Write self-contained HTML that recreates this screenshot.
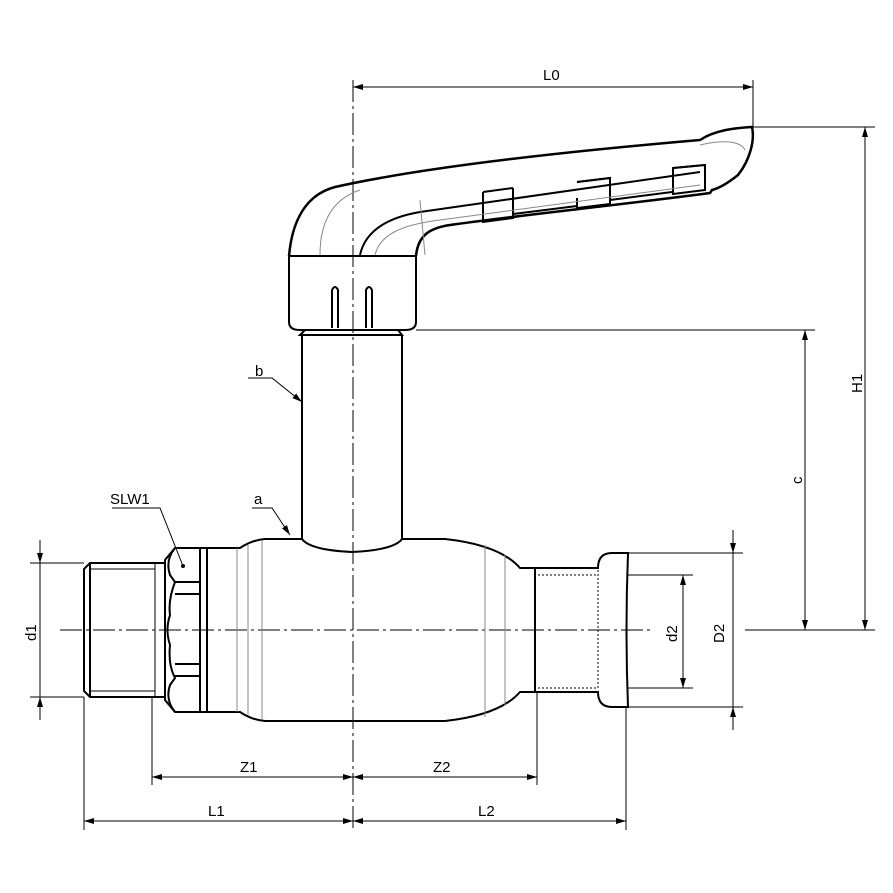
<!DOCTYPE html>
<html><head><meta charset="utf-8"><style>html,body{margin:0;padding:0;background:#fff}svg{display:block}text{font-family:"Liberation Sans",sans-serif;font-size:15px;fill:#000}</style></head><body>
<svg width="893" height="893" viewBox="0 0 893 893" xmlns="http://www.w3.org/2000/svg">
<defs>
<marker id="a" viewBox="0 0 10 6" refX="10" refY="3" markerWidth="10" markerHeight="6" orient="auto-start-reverse" markerUnits="userSpaceOnUse"><path d="M0,0L10,3L0,6z" fill="#000"/></marker>
</defs>
<g stroke="#000" fill="none">
<line x1="353" y1="80" x2="353" y2="830" stroke-width="1" stroke-dasharray="22,4,3,4"/>
<line x1="60" y1="630" x2="650" y2="630" stroke-width="1" stroke-dasharray="22,4,3,4"/>

<!-- handle -->
<g stroke-width="2">
<path d="M289,256 C292,222 305,195 335,187 C420,168 560,152 700,140 C715,130 735,128 752,127 C755,140 750,160 738,175 C728,183 720,188 712,190 L710,193 C620,205 520,215 450,225 C430,228 418,235 416,256" stroke-width="2.5"/>
<path d="M360,255 C365,232 385,218 420,212 C470,205 540,195 700,172"/>
<path d="M289,256 L416,256 L416,322 Q416,330 405,330 L300,330 Q289,330 289,322 Z"/>
<path d="M305,330 L300,335 L402,335 L398,330"/>
<path d="M332,328 V290 Q335,284 338,290 V328 M366,328 V290 Q369,284 372,290 V328"/>
<path d="M483,192 V222 L513,218 V188 M513,214 L577,206 M577,198 V208 L610,204 V178 L577,182 M610,200 L672,192 M673,168 V194 L705,190 V165 Z"/>
<path d="M483,192 L513,188 M577,182 L610,178 M673,168 L705,165"/>
</g>
<g stroke="#888" stroke-width="1">
<path d="M320,255 C320,225 330,200 360,190 M420,200 L425,255 M375,255 C380,235 400,225 440,220 L700,185 M700,145 C720,140 740,140 745,150"/>
</g>

<!-- stem -->
<path d="M302,335 V540 M402,335 V540" stroke-width="2"/>
<!-- body -->
<path d="M207,548 L240,548 Q252,540 265,539 L302,539 Q310,550 352,552 Q394,550 402,539 L445,539 Q500,545 520,568 L535,568 M207,712 L240,712 Q252,720 265,721 L445,721 Q500,715 520,692 L535,692" stroke-width="2"/>
<path d="M237,548 V712 M248,545 V715 M262,540 V720 M485,545 V717 M505,555 V705" stroke="#888" stroke-width="1"/>
<!-- nut -->
<g stroke-width="2">
<path d="M175,548 L207,548 L207,712 L175,712 L165,700 L165,560 Z"/>
<path d="M200,548 V712 M175,548 Q165,560 170,575 L175,582 Q168,600 170,615 Q165,630 170,645 Q168,665 175,678 L170,685 Q165,700 175,712"/>
<path d="M175,582 L200,582 M175,594 L200,594 M175,664 L200,664 M175,676 L200,676"/>
</g>
<circle cx="183" cy="566" r="2" fill="#000" stroke="none"/>
<!-- thread -->
<g stroke-width="2">
<path d="M165,563 L90,563 L84,569 L84,691 L90,697 L165,697"/>
<path d="M90,563 V697"/>
</g>
<path d="M155,563 V697 M90,569 L155,569 M90,691 L155,691" stroke-width="1"/>
<!-- press end -->
<g stroke-width="2">
<path d="M535,568 L598,568 Q598,553 612,553 L628,553 Q625,630 628,707 L612,707 Q598,707 598,692 L535,692"/>
<path d="M535,568 V692"/>
</g>
<path d="M538,575 L598,575 M538,688 L598,688 M598,570 V690" stroke-width="1" stroke-dasharray="2,2"/>

<g stroke-width="1">
<line x1="753" y1="80" x2="753" y2="127"/>
<line x1="753" y1="127" x2="875" y2="127"/>
<line x1="416" y1="330" x2="815" y2="330"/>
<line x1="745" y1="630" x2="875" y2="630"/>
<line x1="612" y1="553" x2="743" y2="553"/>
<line x1="612" y1="707" x2="743" y2="707"/>
<line x1="628" y1="575" x2="693" y2="575"/>
<line x1="628" y1="688" x2="693" y2="688"/>
<line x1="30" y1="563" x2="84" y2="563"/>
<line x1="30" y1="697" x2="84" y2="697"/>
<line x1="152" y1="697" x2="152" y2="785"/>
<line x1="84" y1="697" x2="84" y2="830"/>
<line x1="537" y1="692" x2="537" y2="785"/>
<line x1="626" y1="707" x2="626" y2="830"/>
<line x1="353" y1="87" x2="753" y2="87" marker-start="url(#a)" marker-end="url(#a)"/>
<line x1="865" y1="127" x2="865" y2="630" marker-start="url(#a)" marker-end="url(#a)"/>
<line x1="805" y1="330" x2="805" y2="630" marker-start="url(#a)" marker-end="url(#a)"/>
<line x1="683" y1="575" x2="683" y2="688" marker-start="url(#a)" marker-end="url(#a)"/>
<line x1="733" y1="530" x2="733" y2="553" marker-end="url(#a)"/>
<line x1="733" y1="730" x2="733" y2="707" marker-end="url(#a)"/>
<line x1="733" y1="553" x2="733" y2="707"/>
<line x1="40" y1="540" x2="40" y2="563" marker-end="url(#a)"/>
<line x1="40" y1="720" x2="40" y2="697" marker-end="url(#a)"/>
<line x1="40" y1="563" x2="40" y2="697"/>
<line x1="152" y1="777" x2="353" y2="777" marker-start="url(#a)" marker-end="url(#a)"/>
<line x1="353" y1="777" x2="537" y2="777" marker-start="url(#a)" marker-end="url(#a)"/>
<line x1="84" y1="821" x2="353" y2="821" marker-start="url(#a)" marker-end="url(#a)"/>
<line x1="353" y1="821" x2="626" y2="821" marker-start="url(#a)" marker-end="url(#a)"/>
<polyline points="248,378 272,378 302,402" marker-end="url(#a)"/>
<polyline points="252,508 272,508 290,535" marker-end="url(#a)"/>
<polyline points="112,508 160,508 183,566"/>
</g>
</g>
<text x="543" y="80">L0</text>
<text x="255" y="376">b</text>
<text x="254" y="504">a</text>
<text x="110" y="504">SLW1</text>
<text x="240" y="772">Z1</text>
<text x="433" y="772">Z2</text>
<text x="208" y="816">L1</text>
<text x="478" y="816">L2</text>
<text transform="translate(862,393) rotate(-90)">H1</text>
<text transform="translate(802,484) rotate(-90)">c</text>
<text transform="translate(724,643) rotate(-90)">D2</text>
<text transform="translate(677,642) rotate(-90)">d2</text>
<text transform="translate(36,641) rotate(-90)">d1</text>
</svg>
</body></html>
